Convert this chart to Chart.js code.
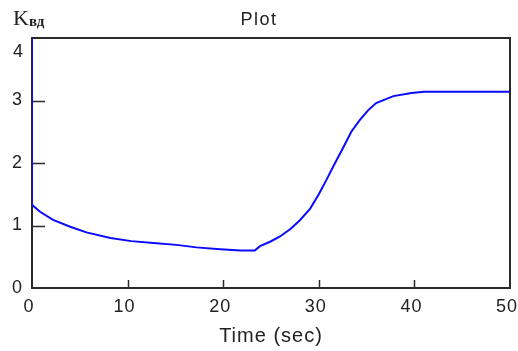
<!DOCTYPE html>
<html>
<head>
<meta charset="utf-8">
<script src="https://cdn.jsdelivr.net/npm/chart.js@4.4.0/dist/chart.umd.min.js"></script>
<style>
  html, body { margin: 0; padding: 0; background: #fff; }
  #wrap { width: 518px; height: 351px; }
</style>
</head>
<body>
<div id="wrap"><canvas id="myChart"></canvas></div>
<script>
// values
var timeSec = [0, 0, 0.84, 2.2, 4, 5.7, 8.2, 10.4, 12.7, 15.1, 17.2, 19.7, 21.8, 23.3, 23.85, 24.9, 25.9, 27.0, 28.0, 29.1, 30.0, 30.8, 31.7, 32.6, 33.4, 34.3, 35.2, 36.0, 37.8, 39.7, 41, 50]
var kvd = [4, 1.33, 1.22, 1.09, 0.98, 0.89, 0.80, 0.75, 0.72, 0.69, 0.65, 0.62, 0.60, 0.60, 0.67, 0.74, 0.82, 0.94, 1.08, 1.27, 1.50, 1.73, 2.0, 2.26, 2.5, 2.69, 2.85, 2.96, 3.07, 3.12, 3.14, 3.14]
var xTicks = [0, 10, 20, 30, 40, 50]
var yTicks = [0, 1, 2, 3, 4]

var points = []
for (var i = 0; i < timeSec.length; i++) {
  points.push({x: timeSec[i], y: kvd[i]})
}

var sans = '"Liberation Sans", Arial, sans-serif'
var yTop = yTicks[yTicks.length - 1]
var axisLine = { display: true, color: '#2a2a2a', width: 2 }

// inward tick marks (under the line), then the top labels
var frame = {
  id: 'frame',
  beforeDraw: function(chart) {
    chart.ctx.letterSpacing = '1px'
  },
  beforeDatasetsDraw: function(chart) {
    var c = chart.ctx
    var xs = chart.scales.x
    var ys = chart.scales.y
    var l = Math.round(xs.getPixelForValue(xTicks[0]))
    var b = Math.round(ys.getPixelForValue(yTicks[0]))
    c.save()
    c.strokeStyle = '#2a2a2a'
    c.lineWidth = 1.5
    c.beginPath()
    for (var k = 1; k < yTicks.length - 1; k++) {
      var py = Math.round(ys.getPixelForValue(yTicks[k])) + 0.5
      c.moveTo(l, py)
      c.lineTo(l + 13, py)
    }
    for (k = 1; k < xTicks.length - 1; k++) {
      var px = Math.round(xs.getPixelForValue(xTicks[k])) + 0.5
      c.moveTo(px, b)
      c.lineTo(px, b - 8)
    }
    c.stroke()
    c.restore()
  },
  afterDraw: function(chart) {
    var c = chart.ctx
    var xs = chart.scales.x
    var ys = chart.scales.y
    c.save()
    c.fillStyle = '#222'
    // top y label sits a little below its tick, as in the original
    c.letterSpacing = '0px'
    c.font = '18px ' + sans
    c.textAlign = 'right'
    c.textBaseline = 'middle'
    c.fillText(String(yTop), xs.getPixelForValue(xTicks[0]) - 9, ys.getPixelForValue(yTop) + 14)
    c.textBaseline = 'alphabetic'
    c.letterSpacing = '1.5px'
    c.textAlign = 'center'
    c.fillText('Plot', 259, 25)
    c.letterSpacing = '0px'
    c.textAlign = 'left'
    c.font = '22px "Liberation Serif", "Times New Roman", serif'
    c.fillText('K', 13, 25)
    c.font = 'bold 15px "Liberation Serif", "Times New Roman", serif'
    c.fillText('вд', 29, 26)
    c.restore()
  }
}

new Chart(document.getElementById('myChart'), {
  type: 'line',
  data: {
    datasets: [{
      data: points,
      borderColor: '#0a0aff',
      borderWidth: 2,
      pointRadius: 0,
      tension: 0,
      fill: false
    }]
  },
  options: {
    responsive: true,
    maintainAspectRatio: false,
    animation: false,
    layout: { padding: { top: 38, right: 0, left: 0, bottom: 0 } },
    plugins: {
      legend: { display: false },
      tooltip: { enabled: false }
    },
    scales: {
      x: {
        type: 'linear',
        min: 0,
        max: 50,
        afterBuildTicks: function(s) { s.ticks = xTicks.map(function(v) { return {value: v} }) },
        afterFit: function(s) {
          s.height = 63
          s.paddingLeft = 0
          s.paddingRight = 8
        },
        grid: { display: false, drawTicks: false },
        border: axisLine,
        ticks: { color: '#222', padding: 8, labelOffset: -3, maxRotation: 0, font: { family: sans, size: 18 } },
        title: {
          display: true,
          text: 'Time (sec)',
          color: '#222',
          padding: { top: 2, bottom: 3 },
          font: { family: sans, size: 20 }
        }
      },
      // empty top and right axes, only there for their border lines
      xTop: {
        type: 'linear',
        position: 'top',
        min: 0,
        max: 50,
        afterFit: function(s) { s.height = 0 },
        grid: { display: false, drawTicks: false },
        border: axisLine,
        ticks: { display: false }
      },
      y: {
        min: 0,
        max: 4,
        afterBuildTicks: function(s) { s.ticks = yTicks.map(function(v) { return {value: v} }) },
        afterFit: function(s) { s.width = 32 },
        grid: { display: false, drawTicks: false },
        border: axisLine,
        ticks: {
          color: function(ctx) { return ctx.tick && ctx.tick.value === yTop ? 'rgba(0,0,0,0)' : '#222' },
          padding: 9,
          font: { family: sans, size: 18 }
        }
      },
      yRight: {
        position: 'right',
        min: 0,
        max: 4,
        afterFit: function(s) { s.width = 0 },
        grid: { display: false, drawTicks: false },
        border: axisLine,
        ticks: { display: false }
      }
    }
  },
  plugins: [frame]
})
</script>
</body>
</html>
